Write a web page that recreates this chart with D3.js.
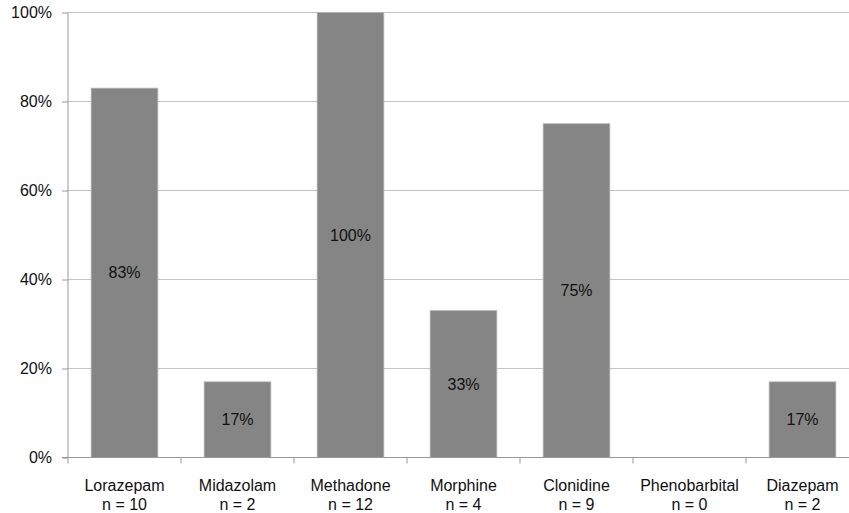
<!DOCTYPE html>
<html>
<head>
<meta charset="utf-8">
<script src="https://cdn.jsdelivr.net/npm/d3@7"></script>
<style>
  html, body { margin: 0; padding: 0; background: #fff; }
  svg { display: block; font-family: "Liberation Sans", Arial, Helvetica, sans-serif; }
</style>
</head>
<body>
<svg id="chart" width="849" height="513"></svg>
<script>
// Share of patients per drug (percent) and group sizes
const drugs = ["Lorazepam", "Midazolam", "Methadone", "Morphine", "Clonidine", "Phenobarbital", "Diazepam"];
const counts = [10, 2, 12, 4, 9, 0, 2];
const percents = [83, 17, 100, 33, 75, 0, 17];
const yTicks = [0, 20, 40, 60, 80, 100];

const svg = d3.select("#chart");
const plotLeft = 68, plotRight = 859, plotTop = 12.5, plotBottom = 457.5;

const x = d3.scaleBand().domain(drugs).range([plotLeft, plotRight]).padding(0);
const y = d3.scaleLinear().domain([0, 100]).range([plotBottom, plotTop]);
const barW = x.bandwidth() * 0.59;

// horizontal gridlines
svg.append("g")
  .selectAll("line")
  .data(yTicks.filter(t => t > 0))
  .join("line")
  .attr("x1", plotLeft).attr("x2", 849)
  .attr("y1", d => y(d)).attr("y2", d => y(d))
  .attr("stroke", "#c4c4c4").attr("stroke-width", 1);

// bars
svg.append("g")
  .selectAll("rect")
  .data(drugs.map((d, i) => ({ drug: d, value: percents[i] })))
  .join("rect")
  .attr("x", d => x(d.drug) + (x.bandwidth() - barW) / 2)
  .attr("width", barW)
  .attr("y", d => y(d.value))
  .attr("height", d => y(0) - y(d.value))
  .attr("fill", "#858585")
  .attr("stroke", "#b4b4b4")
  .attr("stroke-width", 0.8)
  .style("display", d => d.value > 0 ? null : "none");

// value labels in the middle of each bar
svg.append("g")
  .selectAll("text")
  .data(drugs.map((d, i) => ({ drug: d, value: percents[i] })).filter(d => d.value > 0))
  .join("text")
  .attr("x", d => x(d.drug) + x.bandwidth() / 2)
  .attr("y", d => (y(d.value) + y(0)) / 2)
  .attr("dy", "0.35em")
  .attr("text-anchor", "middle")
  .attr("font-size", 16)
  .attr("fill", "#111")
  .text(d => d.value + "%");

// y axis
const yAxis = svg.append("g")
  .attr("transform", `translate(${plotLeft},0)`)
  .call(d3.axisLeft(y).tickValues(yTicks).tickSize(6).tickPadding(10).tickFormat(d => d + "%"));
yAxis.select(".domain").attr("stroke", "#999").attr("d", `M0,${plotTop}V${plotBottom}`);
yAxis.selectAll(".tick line").attr("stroke", "#999");
yAxis.selectAll(".tick text")
  .attr("font-size", 16)
  .attr("font-family", "Liberation Sans, Arial, sans-serif")
  .attr("fill", "#111");

// x axis baseline and band separators
const xg = svg.append("g");
xg.append("line")
  .attr("x1", plotLeft - 6).attr("x2", 849)
  .attr("y1", plotBottom).attr("y2", plotBottom)
  .attr("stroke", "#999");
xg.selectAll("line.sep")
  .data(drugs)
  .join("line")
  .attr("class", "sep")
  .attr("x1", d => x(d)).attr("x2", d => x(d))
  .attr("y1", plotBottom).attr("y2", plotBottom + 6)
  .attr("stroke", "#999");

// category labels with group size underneath
const cat = xg.selectAll("text.cat")
  .data(drugs.map((d, i) => ({ drug: d, n: counts[i] })))
  .join("text")
  .attr("class", "cat")
  .attr("text-anchor", "middle")
  .attr("font-size", 16)
  .attr("fill", "#111");
cat.append("tspan")
  .attr("x", d => x(d.drug) + x.bandwidth() / 2)
  .attr("y", 491)
  .text(d => d.drug);
cat.append("tspan")
  .attr("x", d => x(d.drug) + x.bandwidth() / 2)
  .attr("y", 510)
  .text(d => "n = " + d.n);
</script>
</body>
</html>
